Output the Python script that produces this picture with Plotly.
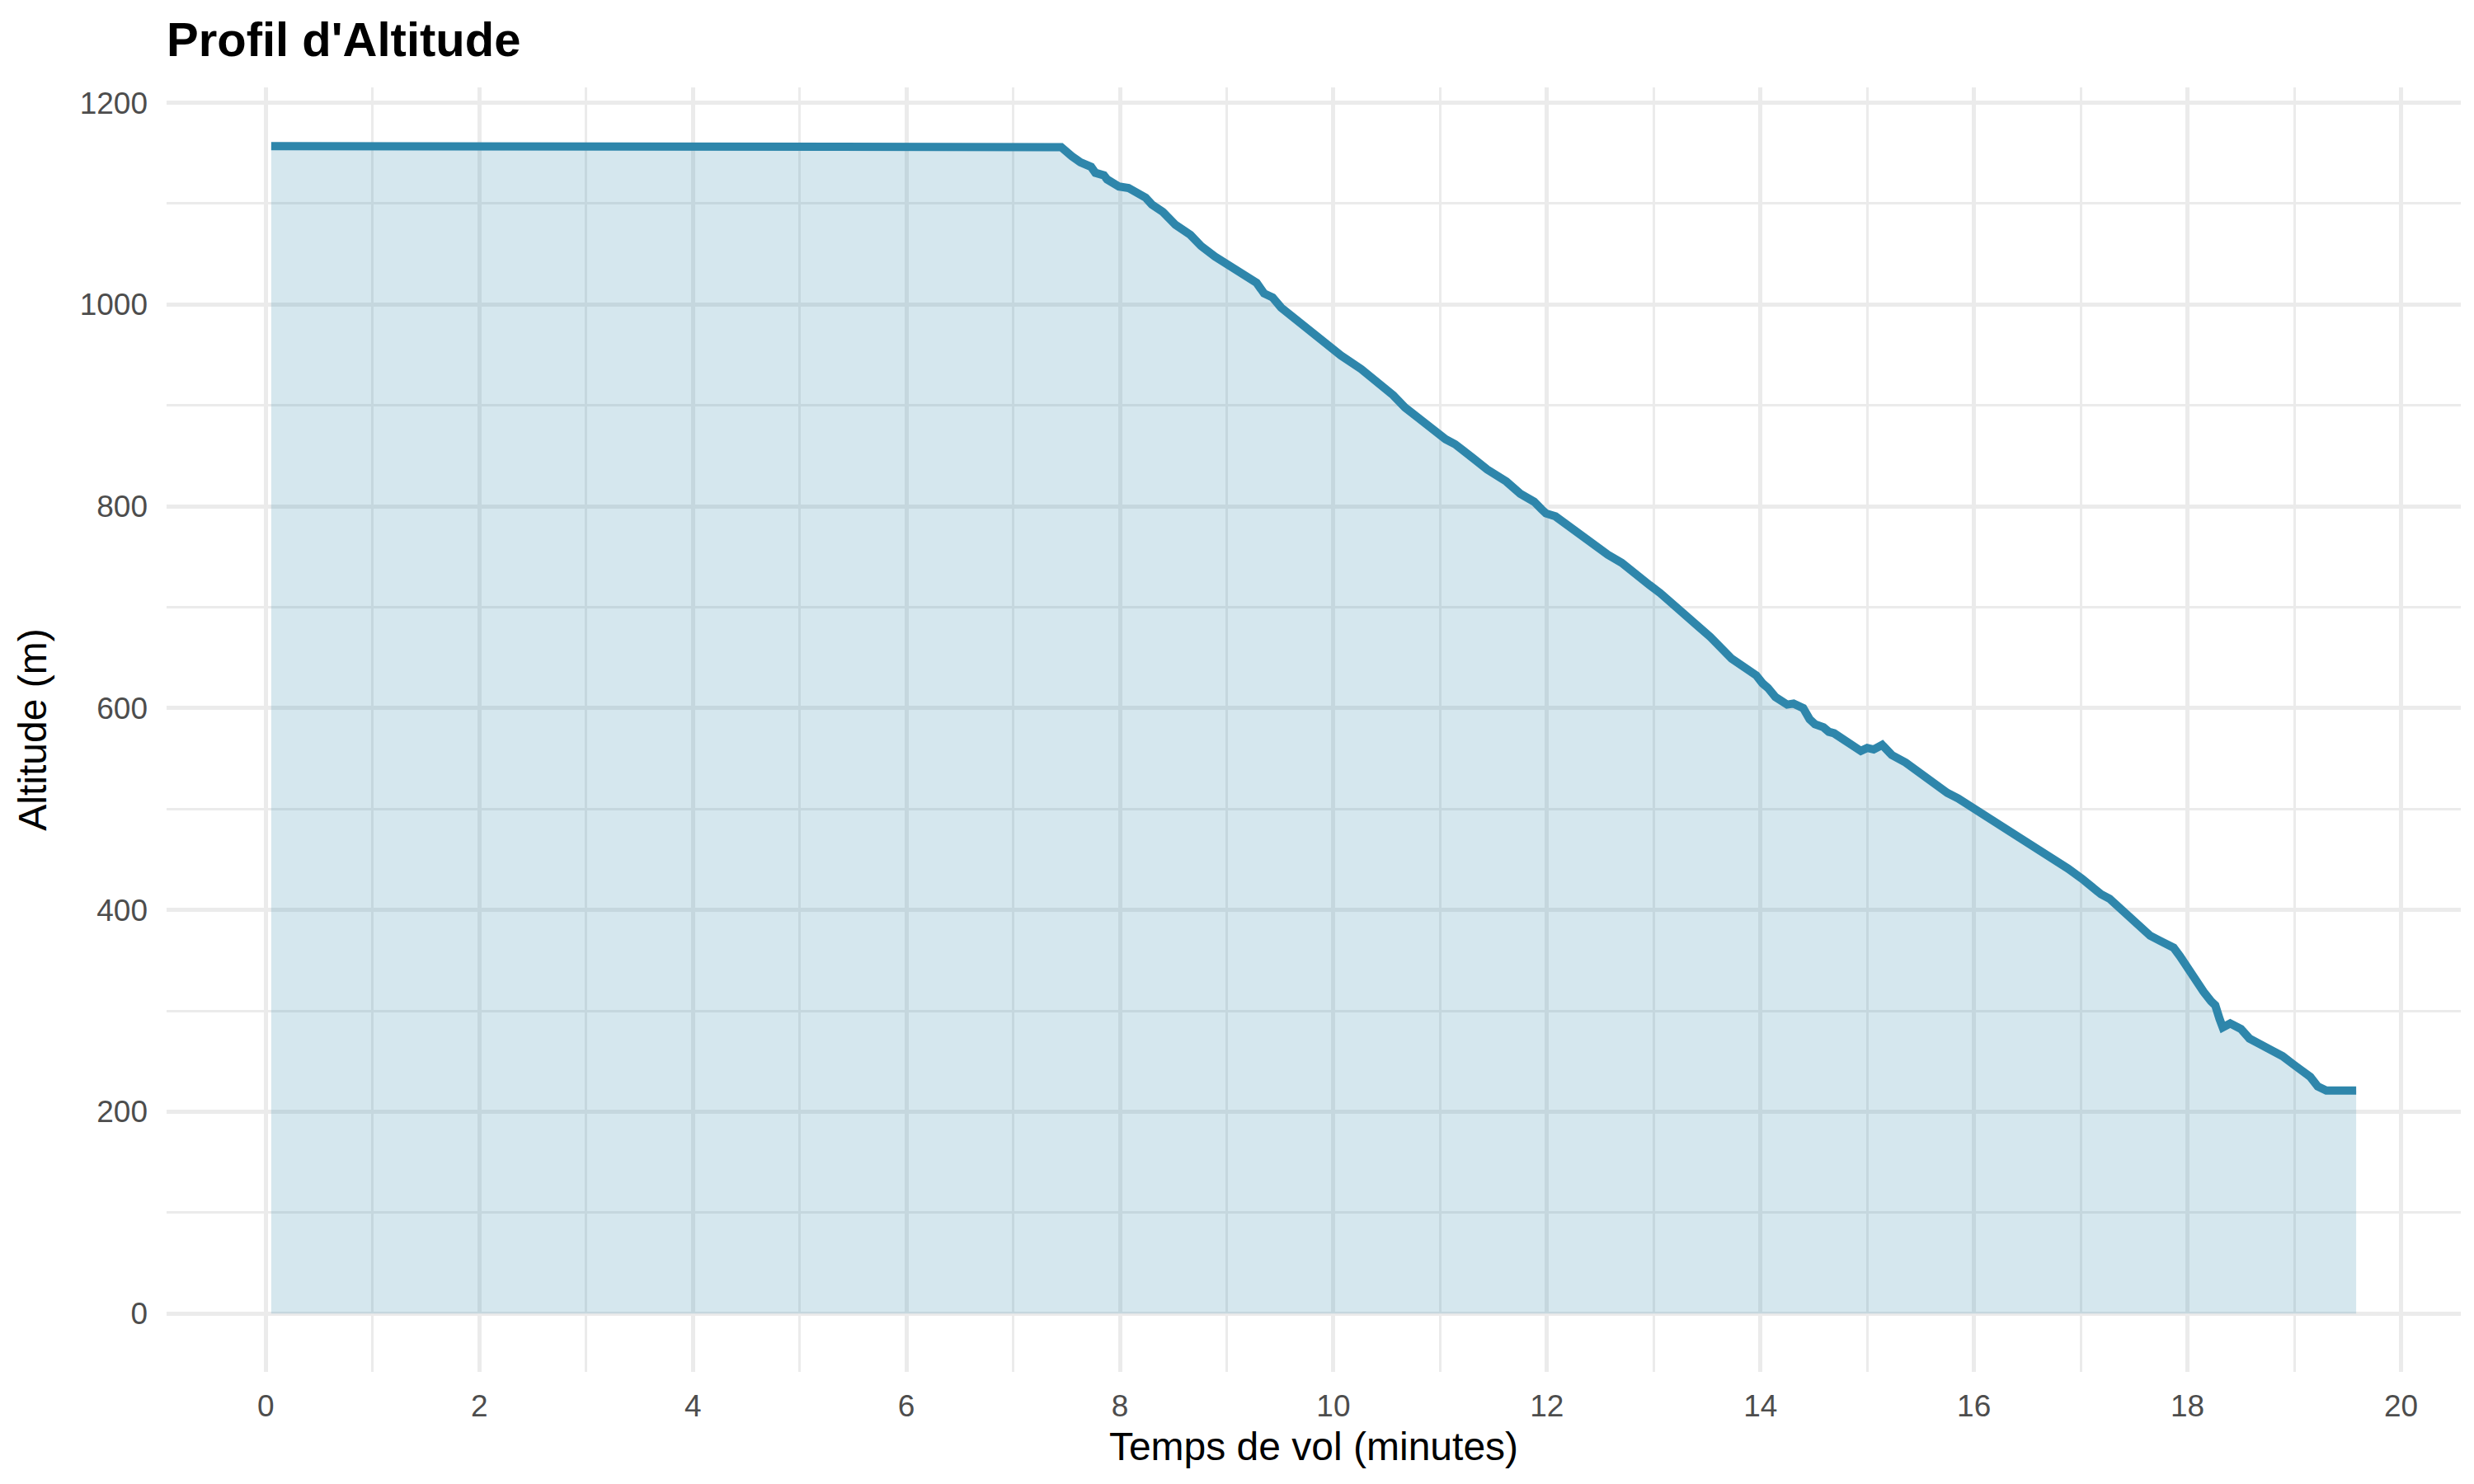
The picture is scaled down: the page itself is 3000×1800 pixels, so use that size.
"""
Altitude profile of a flight: filled area under a line, ggplot-minimal look.
"""

import plotly.graph_objects as go


LINE_COLOR = "#2E86AB"
FILL_COLOR = "rgba(46, 134, 171, 0.2)"
GRID_COLOR = "#EBEBEB"
FONT = "Liberation Sans, Arial, sans-serif"

# flight time (minutes) and altitude (m)
time_min = [
    0.05, 1.0, 2.0, 3.0, 3.40, 3.45, 3.50, 3.85, 3.90, 3.95, 4.2, 4.5, 5.0,
    6.0, 7.0, 7.45,
    7.55, 7.63, 7.73, 7.77, 7.85, 7.88, 7.99, 8.08, 8.24, 8.30, 8.40, 8.52,
    8.66, 8.76, 8.89, 8.99, 9.12, 9.28, 9.35, 9.43, 9.51, 9.64, 9.79, 9.95,
    10.00, 10.07, 10.26, 10.41, 10.56, 10.67, 10.79, 10.92, 11.05, 11.14,
    11.23, 11.31, 11.44, 11.52, 11.55, 11.62, 11.75, 11.88, 11.95, 11.99,
    12.08, 12.19, 12.30, 12.42, 12.57, 12.70, 12.80, 12.96, 13.06, 13.22,
    13.35, 13.44, 13.53, 13.73, 13.86, 13.96, 14.02, 14.07, 14.14, 14.25,
    14.31, 14.40, 14.46, 14.51, 14.59, 14.64, 14.69, 14.79, 14.94, 15.00,
    15.06, 15.14, 15.23, 15.36, 15.46, 15.55, 15.63, 15.75, 15.85, 15.98,
    16.09, 16.20, 16.29, 16.41, 16.54, 16.66, 16.75, 16.88, 17.01, 17.07,
    17.19, 17.27, 17.41, 17.52, 17.65, 17.75, 17.87, 17.93, 18.01, 18.09,
    18.15, 18.22, 18.26, 18.30, 18.33, 18.40, 18.45, 18.50, 18.58, 18.66,
    18.71, 18.78, 18.89, 18.99, 19.09, 19.15, 19.22, 19.30, 19.45, 19.58,
]
altitude_m = [
    1157, 1157, 1157, 1157, 1157, 1156, 1157, 1157, 1156, 1157, 1157, 1156.5,
    1156, 1156, 1156, 1156,
    1147, 1141, 1136.5, 1130.5, 1128, 1124, 1117, 1115.5, 1106, 1099, 1092,
    1079, 1069, 1058, 1047.5, 1041, 1031, 1021.5, 1011, 1007, 997, 986, 973,
    959, 956, 949.5, 936, 924, 910, 898, 888, 876, 866.5, 861.5, 855, 847.5,
    836.5, 831, 827, 824.5, 812.5, 804.5, 797, 793, 790, 781, 774, 763, 752,
    744, 734.5, 722, 714, 699, 688, 680, 670.5, 649, 640.5, 632.5, 624.5,
    620, 611, 603.5, 604.5, 600, 589, 584, 581, 576.5, 575, 568, 557.5, 560.5,
    559, 563.5, 553.5, 546, 538, 530, 524.5, 516, 510.5, 502, 494.5, 486.5,
    479.5, 471.5, 464.5, 456.5, 451, 441, 431, 425, 415.5, 411, 398, 387,
    374.5, 369, 362.5, 354, 340, 327, 319, 309.5, 305.5, 292, 283.5, 287.5,
    283.5, 282, 272.5, 268.5, 264.5, 262, 255, 247, 238.5, 234.5, 225, 221,
    221, 221,
]

x_ticks = list(range(0, 21, 2))
y_ticks = list(range(0, 1201, 200))


fig = go.Figure()

# shaded area under the profile
fig.add_trace(go.Scatter(
    x=time_min,
    y=altitude_m,
    mode="lines",
    fill="tozeroy",
    fillcolor=FILL_COLOR,
    line=dict(width=0, color=FILL_COLOR),
    hoverinfo="skip",
    showlegend=False,
))

# profile line on top
fig.add_trace(go.Scatter(
    x=time_min,
    y=altitude_m,
    mode="lines",
    line=dict(color=LINE_COLOR, width=10),
    hovertemplate="%{x:.2f} min<br>%{y:.0f} m<extra></extra>",
    showlegend=False,
))

axis_common = dict(
    showgrid=True,
    gridcolor=GRID_COLOR,
    gridwidth=4.5,
    zeroline=False,
    showline=False,
    ticks="",
    tickfont=dict(family=FONT, size=37, color="#4D4D4D"),
)

fig.update_layout(
    width=3000,
    height=1800,
    plot_bgcolor="white",
    paper_bgcolor="white",
    font=dict(family=FONT, color="black"),
    margin=dict(l=194, r=24, t=98, b=144, autoexpand=False),
    title=dict(
        text="<b>Profil d'Altitude</b>",
        font=dict(family=FONT, size=58, color="black"),
        xref="paper",
        x=0,
        xanchor="left",
        yref="container",
        y=1 - 40 / 1800,
        yanchor="middle",
    ),
    xaxis=dict(
        axis_common,
        range=[-0.93, 20.56],
        tickvals=x_ticks,
        ticklabelstandoff=16,
        minor=dict(dtick=1, showgrid=True, gridcolor=GRID_COLOR, gridwidth=2.5),
        title=dict(
            text="Temps de vol (minutes)",
            font=dict(family=FONT, size=48, color="black"),
            standoff=12,
        ),
    ),
    yaxis=dict(
        axis_common,
        range=[-57.9, 1215.2],
        tickvals=y_ticks,
        ticklabelstandoff=22,
        minor=dict(dtick=100, showgrid=True, gridcolor=GRID_COLOR, gridwidth=2.5),
        title=dict(
            text="Altitude (m)",
            font=dict(family=FONT, size=48, color="black"),
            standoff=24,
        ),
    ),
)

fig.write_html("out.html")
